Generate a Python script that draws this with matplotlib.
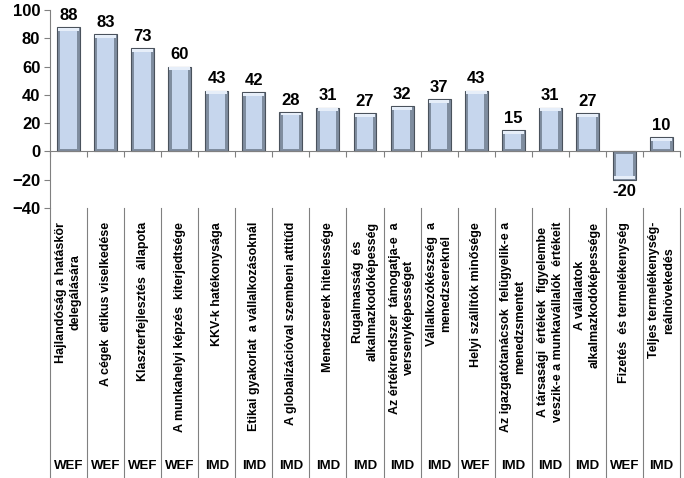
import numpy as np
import matplotlib.pyplot as plt
from matplotlib.transforms import blended_transform_factory

plt.rcParams['font.family'] = ['Liberation Sans', 'DejaVu Sans']

categories = [
    'Hajlandóság a hatáskör\ndelegálására',
    'A cégek  etikus viselkedése',
    'Klaszterfejlesztés  állapota',
    'A munkahelyi képzés  kiterjedtsége',
    'KKV-k hatékonysága',
    'Etikai gyakorlat  a vállalkozásoknál',
    'A globalizációval szembeni attitűd',
    'Menedzserek hitelessége',
    'Rugalmasság  és\nalkalmazkodóképesség',
    'Az értékrendszer  támogatja-e  a\nversenyképességet',
    'Vállalkozókészség  a\nmenedzsereknél',
    'Helyi szállítók minősége',
    'Az igazgatótanácsok  felügyelik-e a\nmenedzsmentet',
    'A társasági  értékek  figyelembe\nveszik-e a munkavállalók  értékeit',
    'A vállalatok\nalkalmazkodóképessége',
    'Fizetés  és termelékenység',
    'Teljes termelékenység-\nreálnövekedés',
]
values = [88, 83, 73, 60, 43, 42, 28, 31, 27, 32, 37, 43, 15, 31, 27, -20, 10]
sources = ['WEF', 'WEF', 'WEF', 'WEF', 'IMD', 'IMD', 'IMD', 'IMD', 'IMD',
           'IMD', 'IMD', 'WEF', 'IMD', 'IMD', 'IMD', 'WEF', 'IMD']

W, H = 684, 478
fig = plt.figure(figsize=(W / 100, H / 100), dpi=100)
ax = fig.add_axes([50 / W, 1 - 208 / H, 630 / W, 198 / H])

x = np.arange(len(values))
bw = 0.62
ax.bar(x, values, width=bw, color='#7f8d9f', edgecolor='#4a525c', linewidth=0.8, zorder=2)
# inner lighter face to mimic the bevel
inner = [v - np.sign(v) * 2.5 for v in values]
base = [np.sign(v) * 1.8 for v in values]
ax.bar(x, np.array(inner) - np.array(base), bottom=base, width=bw - 0.18,
       color='#c6d6ed', edgecolor='none', zorder=3)
top = [v - np.sign(v) * 2.5 for v in values]
ax.bar(x, [np.sign(v) * 2.0 for v in values], bottom=top, width=bw - 0.06,
       color='#e6eef9', edgecolor='none', zorder=3)

for xi, v in zip(x, values):
    if v >= 0:
        ax.text(xi, v + 3, str(v), ha='center', va='bottom', fontsize=12,
                fontweight='bold')
    else:
        ax.text(xi, v - 3, str(v), ha='center', va='top', fontsize=12,
                fontweight='bold')

ax.set_xlim(-0.5, len(values) - 0.5)
ax.set_ylim(-40, 100)
ax.set_yticks(range(-40, 101, 20))
ax.tick_params(axis='y', labelsize=12, length=4, color='#808080', pad=3)
for lab in ax.get_yticklabels():
    lab.set_fontweight('bold')

ax.spines['top'].set_visible(False)
ax.spines['right'].set_visible(False)
ax.spines['bottom'].set_position(('data', 0))
ax.spines['bottom'].set_color('#808080')
ax.spines['left'].set_color('#808080')
ax.set_xticks(np.arange(len(values) + 1) - 0.5)
ax.set_xticklabels([])
ax.tick_params(axis='x', length=4, color='#808080', direction='out')

# category table below the chart
tr = blended_transform_factory(ax.transData, fig.transFigure)
y_top = 1 - 208 / H
for b in np.arange(len(values) + 1) - 0.5:
    ax.plot([b, b], [y_top, 0], transform=tr, color='#808080', lw=0.8,
            clip_on=False)
for xi, cat, src in zip(x, categories, sources):
    ax.text(xi, 1 - 222 / H, cat, transform=tr, rotation=90, ha='center',
            va='top', multialignment='center', fontsize=9, fontweight='bold',
            linespacing=1.3)
    ax.text(xi, 1 - 466 / H, src, transform=tr, ha='center', va='center',
            fontsize=9.5, fontweight='bold')

fig.savefig('out.png', dpi=100)
